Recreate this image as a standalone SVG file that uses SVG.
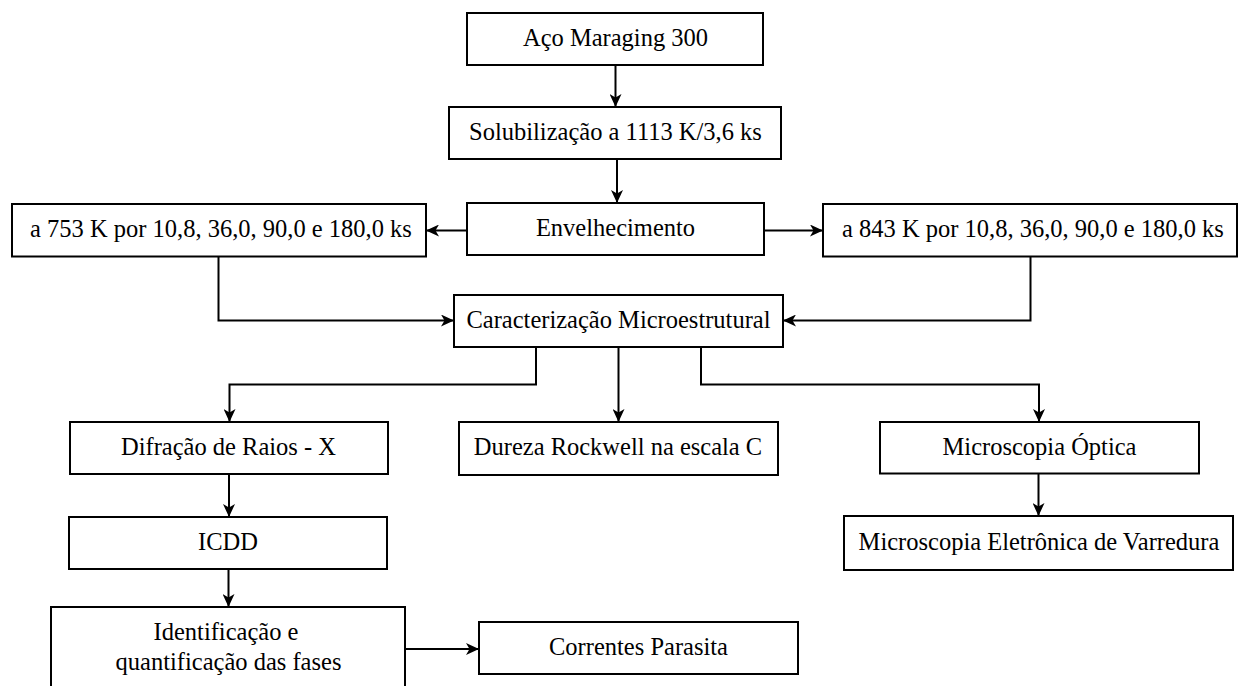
<svg xmlns="http://www.w3.org/2000/svg" width="1242" height="686" viewBox="0 0 1242 686">
<defs>
<marker id="ah" markerUnits="userSpaceOnUse" markerWidth="14" markerHeight="12" viewBox="0 0 14 12" refX="13" refY="6" orient="auto">
<path d="M0,0 L13,6 L0,12 L3.5,6 Z" fill="#000"/>
</marker>
<style>
rect{fill:#fff;stroke:#000;stroke-width:2}
text{font-size:24.5px;fill:#000;text-anchor:middle}
.c path{fill:none;stroke:#000;stroke-width:2;marker-end:url(#ah)}
</style>
</defs>
<rect x="0" y="0" width="1242" height="686" style="fill:#fff;stroke:none"/>
<g class="c" id="connectors">
<path d="M615.5,65 V107"/>
<path d="M617,159 V203"/>
<path d="M467,230.5 H426"/>
<path d="M764,230.5 H823"/>
<path d="M218.5,256.5 V320.5 H454"/>
<path d="M1030.5,256.5 V320.5 H783"/>
<path d="M536,347 V384.5 H229.5 V422"/>
<path d="M618.5,347 V422"/>
<path d="M701,347 V384.5 H1039 V422"/>
<path d="M229,474 V517"/>
<path d="M228.5,569 V607"/>
<path d="M1038.5,473 V516"/>
<path d="M405,649 H479"/>
</g>
<g font-family="Liberation Serif, DejaVu Serif, serif">
<g id="n1"><rect x="467" y="13" width="296" height="52"/><text x="615.5" y="46">Aço Maraging 300</text></g>
<g id="n2"><rect x="449" y="107" width="332" height="52"/><text x="615.5" y="140">Solubilização a 1113 K/3,6 ks</text></g>
<g id="n3"><rect x="467" y="203" width="297" height="52"/><text x="615.5" y="236">Envelhecimento</text></g>
<g id="n4"><rect x="12" y="204" width="414" height="52.5"/><text x="221" y="237">a 753 K por 10,8, 36,0, 90,0 e 180,0 ks</text></g>
<g id="n5"><rect x="823" y="204" width="414" height="52.5"/><text x="1033" y="237">a 843 K por 10,8, 36,0, 90,0 e 180,0 ks</text></g>
<g id="n6"><rect x="454" y="295" width="329" height="52"/><text x="618.5" y="328">Caracterização Microestrutural</text></g>
<g id="n7"><rect x="70" y="422" width="318" height="52"/><text x="228.5" y="455">Difração de Raios - X</text></g>
<g id="n8"><rect x="459" y="422" width="319" height="53"/><text x="618" y="455">Dureza Rockwell na escala C</text></g>
<g id="n9"><rect x="880" y="422" width="319" height="51.5"/><text x="1039.5" y="455">Microscopia Óptica</text></g>
<g id="n10"><rect x="69" y="517" width="318" height="52"/><text x="228" y="550">ICDD</text></g>
<g id="n11"><rect x="844" y="516" width="389" height="54"/><text x="1039" y="550">Microscopia Eletrônica de Varredura</text></g>
<g id="n12"><rect x="51" y="607" width="354" height="100"/><text x="226" y="640">Identificação e</text><text x="228.5" y="669.5">quantificação das fases</text></g>
<g id="n13"><rect x="479" y="622" width="319" height="52"/><text x="638.5" y="655">Correntes Parasita</text></g>
</g>
</svg>
